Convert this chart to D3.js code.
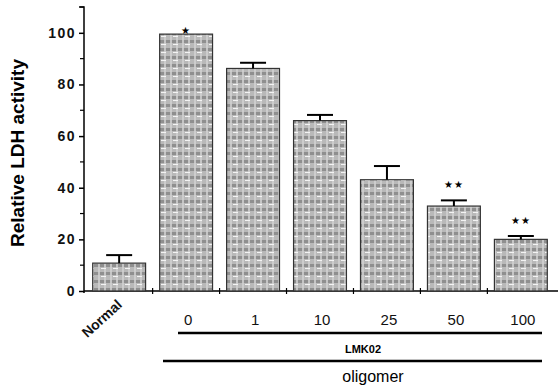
<!DOCTYPE html>
<html>
<head>
<meta charset="utf-8">
<script src="https://cdn.jsdelivr.net/npm/d3@7"></script>
<style>
  body { margin: 0; background: #fff; }
  text { font-family: "Liberation Sans", Arial, sans-serif; }
</style>
</head>
<body>
<div class="canvas"></div>
<script>
const categories = ["Normal", "0", "1", "10", "25", "50", "100"];
const values = [10.8, 99.5, 86.2, 66, 43.1, 32.9, 20];
const errors = [3.1, 0, 2.2, 2.2, 5.3, 2.2, 1.3];
const stars = ["", "★", "", "", "", "★★", "★★"];
const yTicks = [0, 20, 40, 60, 80, 100];
const yMinor = [10, 30, 50, 70, 90, 110];

const dims = { width: 558, height: 385 };
const margin = { left: 84, right: 2, top: 7, bottom: 94 };

const svg = d3
  .select(".canvas")
  .append("svg")
  .attr("width", dims.width)
  .attr("height", dims.height);

// gray woven texture like the print
const defs = svg.append("defs");
const pat = defs
  .append("pattern")
  .attr("id", "weave")
  .attr("patternUnits", "userSpaceOnUse")
  .attr("width", 12)
  .attr("height", 8);
pat.append("rect").attr("width", 12).attr("height", 8).attr("fill", "#b9b9b9");
pat.append("rect").attr("y", 0).attr("width", 12).attr("height", 3).attr("fill", "#8f8f8f");
pat.append("rect").attr("x", 2).attr("width", 2).attr("height", 8).attr("fill", "#d2d2d2").attr("opacity", 0.8);
pat.append("rect").attr("x", 8).attr("width", 2).attr("height", 8).attr("fill", "#d2d2d2").attr("opacity", 0.8);
pat.append("rect").attr("x", 5).attr("y", 4).attr("width", 5).attr("height", 1).attr("fill", "#f4f4f4");

const x = d3
  .scaleBand()
  .domain(categories)
  .range([margin.left, 556])
  .paddingInner(0.21)
  .paddingOuter(0.13);

const y = d3
  .scaleLinear()
  .domain([0, 110])
  .range([dims.height - margin.bottom, margin.top]);

const yZero = y(0);

// y axis
const yAxis = d3.axisLeft(y).tickValues(yTicks).tickSize(5).tickPadding(4).tickFormat(d3.format("d"));
const yg = svg.append("g").attr("transform", `translate(${margin.left},0)`).call(yAxis);
yg.select(".domain").attr("stroke", "#000").attr("stroke-width", 1.5).attr("d", `M-5,${y(110)}H0V${yZero + 2}`);
yg.selectAll(".tick line").attr("stroke-width", 1.5);
yg.selectAll("text")
  .attr("font-size", 14)
  .attr("font-weight", "bold")
  .attr("letter-spacing", 1.5)
  .attr("dx", 1)
  .attr("fill", "#111");

svg
  .append("g")
  .selectAll("line")
  .data(yMinor)
  .join("line")
  .attr("x1", margin.left - 4)
  .attr("x2", margin.left)
  .attr("y1", (d) => y(d))
  .attr("y2", (d) => y(d))
  .attr("stroke", "#000")
  .attr("stroke-width", 1.2);

// x axis line with crossing ticks at band boundaries
svg
  .append("line")
  .attr("x1", margin.left)
  .attr("x2", dims.width)
  .attr("y1", yZero)
  .attr("y2", yZero)
  .attr("stroke", "#000")
  .attr("stroke-width", 1.5);

const step = x.step();
const boundaries = categories.slice(1).map((c) => x(c) - (step - x.bandwidth()) / 2);
svg
  .append("g")
  .selectAll("line")
  .data(boundaries)
  .join("line")
  .attr("x1", (d) => d)
  .attr("x2", (d) => d)
  .attr("y1", yZero - 3)
  .attr("y2", yZero + 3)
  .attr("stroke", "#000")
  .attr("stroke-width", 1.2);

// bars
const graph = svg.append("g");
graph
  .selectAll("rect")
  .data(values)
  .join("rect")
  .attr("x", (d, i) => x(categories[i]))
  .attr("y", (d) => y(d))
  .attr("width", x.bandwidth())
  .attr("height", (d) => yZero - y(d))
  .attr("fill", "url(#weave)")
  .attr("stroke", "#333")
  .attr("stroke-width", 1.2);

// error bars
const errGroup = svg.append("g").attr("stroke", "#000").attr("stroke-width", 2);
values.forEach((v, i) => {
  if (!errors[i]) return;
  const cx = x(categories[i]) + x.bandwidth() / 2;
  errGroup.append("line").attr("x1", cx).attr("x2", cx).attr("y1", y(v)).attr("y2", y(v + errors[i]));
  errGroup.append("line").attr("x1", cx - 13).attr("x2", cx + 13).attr("y1", y(v + errors[i])).attr("y2", y(v + errors[i]));
});

// significance stars
svg
  .append("g")
  .selectAll("text")
  .data(stars)
  .join("text")
  .attr("x", (d, i) => x(categories[i]) + x.bandwidth() / 2)
  .attr("y", (d, i) => y(values[i] + errors[i]) - (errors[i] ? 12 : 0))
  .attr("text-anchor", "middle")
  .attr("font-family", "DejaVu Sans")
  .attr("font-size", 10)
  .attr("letter-spacing", 0.5)
  .text((d) => d);

// category labels
svg
  .append("text")
  .attr("transform", `translate(123,306) rotate(-42)`)
  .attr("text-anchor", "end")
  .attr("font-size", 14)
  .attr("font-weight", "bold")
  .attr("fill", "#111")
  .text(categories[0]);

svg
  .append("g")
  .selectAll("text")
  .data(categories.slice(1))
  .join("text")
  .attr("x", (d) => x(d) + x.bandwidth() / 2 + 2)
  .attr("y", 325)
  .attr("text-anchor", "middle")
  .attr("font-size", 15)
  .attr("fill", "#111")
  .text((d) => d);

// group brackets
svg.append("line").attr("x1", 178).attr("x2", 542).attr("y1", 333).attr("y2", 333).attr("stroke", "#000").attr("stroke-width", 2.5);
svg.append("text").attr("x", 363).attr("y", 353).attr("text-anchor", "middle").attr("font-size", 11).attr("font-weight", "bold").text("LMK02");
svg.append("line").attr("x1", 163).attr("x2", 542).attr("y1", 361).attr("y2", 361).attr("stroke", "#000").attr("stroke-width", 2.5);
svg.append("text").attr("x", 373).attr("y", 382).attr("text-anchor", "middle").attr("font-size", 16).text("oligomer");

// y label
svg
  .append("text")
  .attr("transform", `translate(24,153) rotate(-90)`)
  .attr("text-anchor", "middle")
  .attr("font-size", 19)
  .attr("font-weight", "bold")
  .text("Relative LDH activity");
</script>
</body>
</html>
